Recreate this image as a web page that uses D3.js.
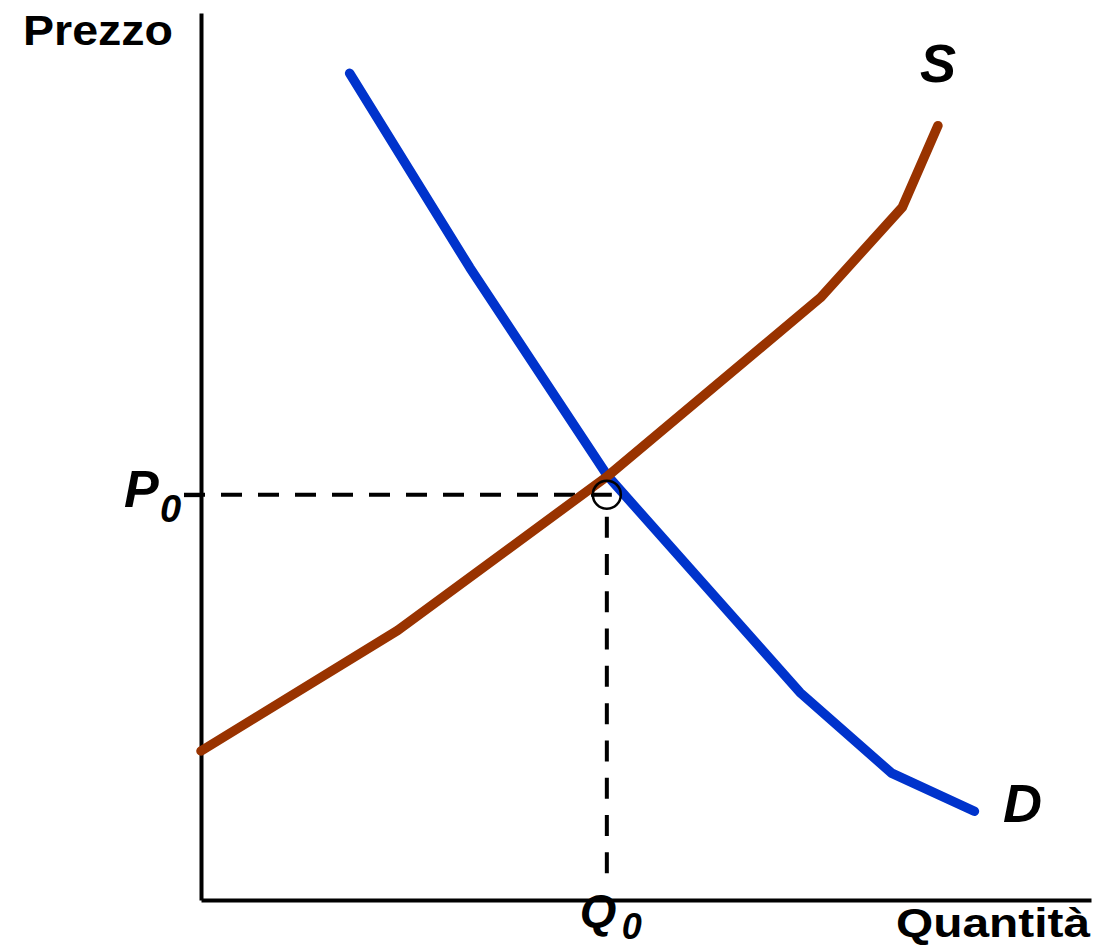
<!DOCTYPE html>
<html>
<head>
<meta charset="utf-8">
<script src="https://cdn.jsdelivr.net/npm/d3@7"></script>
<style>
  body { margin: 0; background: #fff; }
  text { font-family: "Liberation Sans", Arial, sans-serif; font-weight: bold; fill: #000; }
</style>
</head>
<body>
<svg id="chart"></svg>
<script>
// curve points, quantity / price in chart units (0-100)
var demandQ = [16.7, 30.2, 45.7, 67.3, 77.6, 86.9]
var demandP = [93.2, 71.3, 47.8, 23.4, 14.3, 10.0]
var supplyQ = [0, 22.1, 45.7, 69.6, 78.8, 82.8]
var supplyP = [16.8, 30.4, 47.8, 67.9, 78.1, 87.3]

// equilibrium marker
var Q0 = 45.6
var P0 = 45.7

var dimensions = {
    width: 1098,
    height: 947,
    margin: { top: 13, bottom: 47, left: 201, right: 7 }
}

var svg = d3.select("#chart")
    .attr("width", dimensions.width)
    .attr("height", dimensions.height)

var xScale = d3.scaleLinear()
    .domain([0, 100])
    .range([dimensions.margin.left, dimensions.width - dimensions.margin.right])

var yScale = d3.scaleLinear()
    .domain([0, 100])
    .range([dimensions.height - dimensions.margin.bottom, dimensions.margin.top])

var demand = demandQ.map((q, i) => ({ q: q, p: demandP[i] }))
var supply = supplyQ.map((q, i) => ({ q: q, p: supplyP[i] }))

// axes: only the domain line plus the P0 tick on the left one
var yAxisGen = d3.axisLeft(yScale).tickValues([P0]).tickSize(17).tickSizeOuter(0).tickFormat("")
var yAxis = svg.append("g")
    .attr("transform", `translate(${dimensions.margin.left},0)`)
    .call(yAxisGen)
yAxis.select(".domain").attr("stroke-width", 4)
yAxis.selectAll(".tick line").attr("stroke-width", 4)

var xAxisGen = d3.axisBottom(xScale).tickValues([]).tickSizeOuter(0)
var xAxis = svg.append("g")
    .attr("transform", `translate(0,${yScale(0)})`)
    .call(xAxisGen)
xAxis.select(".domain").attr("stroke-width", 4)

// dashed guides
svg.append("line")
    .attr("x1", xScale(0) - 17)
    .attr("x2", xScale(Q0) + 5)
    .attr("y1", yScale(P0))
    .attr("y2", yScale(P0))
    .attr("stroke", "#000")
    .attr("stroke-width", 4)
    .attr("stroke-dasharray", "21,16")

svg.append("line")
    .attr("x1", xScale(Q0))
    .attr("x2", xScale(Q0))
    .attr("y1", yScale(P0) + 22)
    .attr("y2", yScale(0) - 20)
    .attr("stroke", "#000")
    .attr("stroke-width", 4)
    .attr("stroke-dasharray", "21,16.3")

var line = d3.line()
    .x(d => xScale(d.q))
    .y(d => yScale(d.p))

svg.append("path")
    .datum(demand)
    .attr("class", "demand")
    .attr("d", line)
    .attr("fill", "none")
    .attr("stroke", "#0033CC")
    .attr("stroke-width", 9.5)
    .attr("stroke-linecap", "round")
    .attr("stroke-linejoin", "round")

svg.append("path")
    .datum(supply)
    .attr("class", "supply")
    .attr("d", line)
    .attr("fill", "none")
    .attr("stroke", "#993300")
    .attr("stroke-width", 9.5)
    .attr("stroke-linecap", "round")
    .attr("stroke-linejoin", "round")

svg.append("circle")
    .attr("cx", xScale(Q0))
    .attr("cy", yScale(P0))
    .attr("r", 14)
    .attr("fill", "none")
    .attr("stroke", "#000")
    .attr("stroke-width", 2.5)

// axis titles
svg.append("text")
    .attr("x", 23)
    .attr("y", 45)
    .attr("font-size", 42)
    .attr("textLength", 150)
    .attr("lengthAdjust", "spacingAndGlyphs")
    .text("Prezzo")

svg.append("text")
    .attr("x", 896)
    .attr("y", 937)
    .attr("font-size", 41)
    .attr("textLength", 194)
    .attr("lengthAdjust", "spacingAndGlyphs")
    .text("Quantità")

// P0 / Q0 labels
svg.append("text")
    .attr("x", xScale(0) - 77)
    .attr("y", yScale(P0) + 12)
    .attr("font-size", 52)
    .attr("font-style", "italic")
    .text("P")
svg.append("text")
    .attr("x", xScale(0) - 41)
    .attr("y", yScale(P0) + 27)
    .attr("font-size", 38)
    .attr("font-style", "italic")
    .text("0")

svg.append("text")
    .attr("x", xScale(Q0) - 27)
    .attr("y", yScale(0) + 27)
    .attr("font-size", 47)
    .attr("font-style", "italic")
    .text("Q")
svg.append("text")
    .attr("x", xScale(Q0) + 15)
    .attr("y", yScale(0) + 39)
    .attr("font-size", 36)
    .attr("font-style", "italic")
    .text("0")

// curve labels
svg.append("text")
    .attr("x", 920)
    .attr("y", 82)
    .attr("font-size", 54)
    .attr("font-style", "italic")
    .text("S")

svg.append("text")
    .attr("x", 1003)
    .attr("y", 822)
    .attr("font-size", 54)
    .attr("font-style", "italic")
    .text("D")
</script>
</body>
</html>
